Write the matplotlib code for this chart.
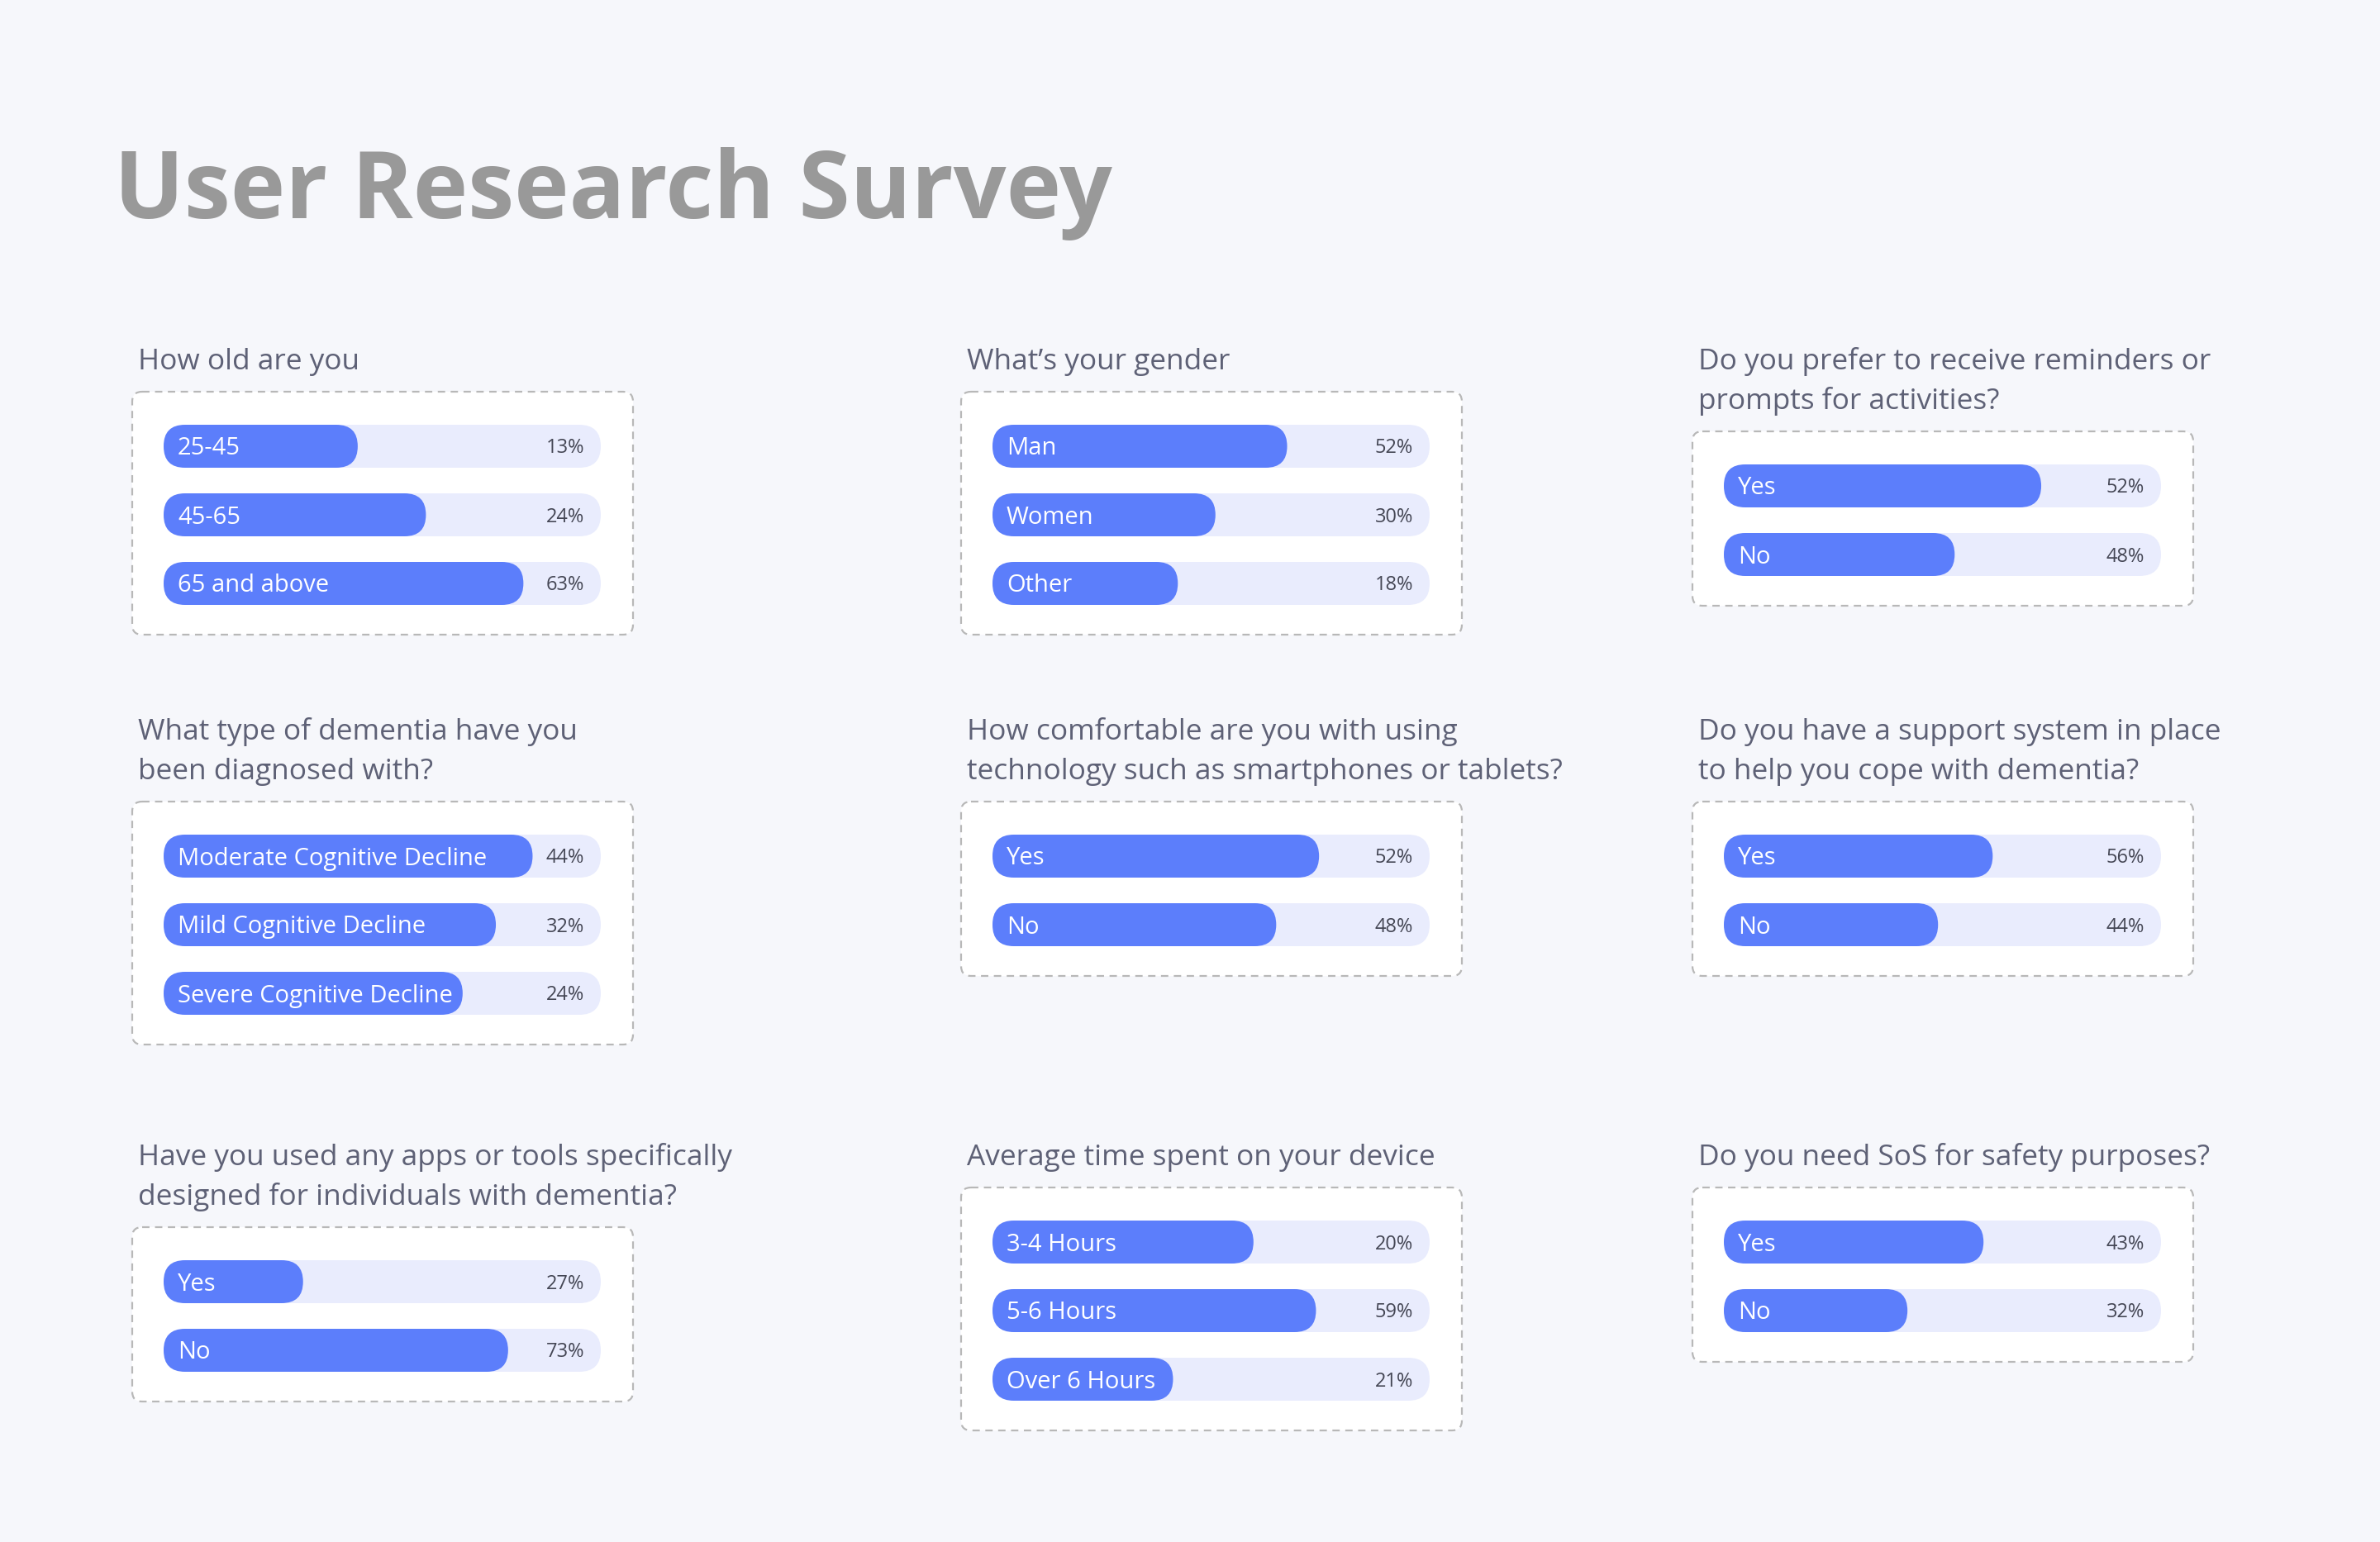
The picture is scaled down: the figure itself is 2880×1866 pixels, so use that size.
import matplotlib
matplotlib.use("Agg")
import matplotlib.pyplot as plt
from matplotlib.patches import FancyBboxPatch

plt.rcParams['font.family'] = ['Open Sans', 'DejaVu Sans']

# survey data (percent labels and bar fill as drawn in the mockup)
age_labels = ["25-45", "45-65", "65 and above"]
age_pct = [13, 24, 63]
age_fill = [0.444, 0.600, 0.823]

gender_labels = ["Man", "Women", "Other"]
gender_pct = [52, 30, 18]
gender_fill = [0.674, 0.510, 0.424]

remind_labels = ["Yes", "No"]
remind_pct = [52, 48]
remind_fill = [0.726, 0.528]

dementia_labels = ["Moderate Cognitive Decline", "Mild Cognitive Decline", "Severe Cognitive Decline"]
dementia_pct = [44, 32, 24]
dementia_fill = [0.844, 0.760, 0.684]

tech_labels = ["Yes", "No"]
tech_pct = [52, 48]
tech_fill = [0.747, 0.649]

support_labels = ["Yes", "No"]
support_pct = [56, 44]
support_fill = [0.615, 0.490]

apps_labels = ["Yes", "No"]
apps_pct = [27, 73]
apps_fill = [0.319, 0.788]

time_labels = ["3-4 Hours", "5-6 Hours", "Over 6 Hours"]
time_pct = [20, 59, 21]
time_fill = [0.597, 0.740, 0.413]

sos_labels = ["Yes", "No"]
sos_pct = [43, 32]
sos_fill = [0.594, 0.420]

questions = [
    "How old are you",
    "What\u2019s your gender",
    "Do you prefer to receive reminders or\nprompts for activities?",
    "What type of dementia have you\nbeen diagnosed with?",
    "How comfortable are you with using\ntechnology such as smartphones or tablets?",
    "Do you have a support system in place\nto help you cope with dementia?",
    "Have you used any apps or tools specifically\ndesigned for individuals with dementia?",
    "Average time spent on your device",
    "Do you need SoS for safety purposes?",
]

panels = [
    (age_labels, age_pct, age_fill),
    (gender_labels, gender_pct, gender_fill),
    (remind_labels, remind_pct, remind_fill),
    (dementia_labels, dementia_pct, dementia_fill),
    (tech_labels, tech_pct, tech_fill),
    (support_labels, support_pct, support_fill),
    (apps_labels, apps_pct, apps_fill),
    (time_labels, time_pct, time_fill),
    (sos_labels, sos_pct, sos_fill),
]

BG = "#F6F7FB"
FILL = "#5C7EFB"
TRACK = "#E9ECFD"
QCOL = "#5E6176"
PCOL = "#444654"

W, H = 2880, 1866
fig = plt.figure(figsize=(W / 100, H / 100), dpi=100, facecolor=BG)
ax = fig.add_axes([0, 0, 1, 1])
ax.set_xlim(0, W)
ax.set_ylim(H, 0)
ax.axis("off")

ax.text(138, 264, "User Research Survey", fontsize=81, fontweight="bold",
        color="#999999", va="baseline", ha="left")

col_x = [160, 1163, 2048]
row_y = [435, 883, 1398]
box_w = 606
pad_x = 38
track_h = 52
step = 83
line_h = 48

for i, (q, (labels, pct, fill)) in enumerate(zip(questions, panels)):
    x0 = col_x[i % 3]
    ty = row_y[i // 3]
    nlines = q.count("\n") + 1
    for k, line in enumerate(q.split("\n")):
        ax.text(x0 + 7, ty + 12 + k * line_h, line, fontsize=25.4, color=QCOL,
                va="baseline", ha="left")
    box_top = ty + (nlines - 1) * line_h + 39
    n = len(labels)
    box_h = 66 + (n - 1) * step + 62
    ax.add_patch(FancyBboxPatch((x0, box_top), box_w, box_h,
                                boxstyle="round,pad=0,rounding_size=12",
                                facecolor="white", edgecolor="#B8B8B8",
                                linewidth=1.6, linestyle=(0, (4, 3))))
    tx = x0 + pad_x
    tw = box_w - 2 * pad_x - 1
    for j in range(n):
        cy = box_top + 66 + j * step
        ax.add_patch(FancyBboxPatch((tx, cy - track_h / 2), tw, track_h,
                                    boxstyle="round,pad=0,rounding_size=26",
                                    facecolor=TRACK, edgecolor="none"))
        ax.add_patch(FancyBboxPatch((tx, cy - track_h / 2), tw * fill[j], track_h,
                                    boxstyle="round,pad=0,rounding_size=26",
                                    facecolor=FILL, edgecolor="none"))
        ax.text(tx + 17, cy + 10.5, labels[j], fontsize=21, color="white",
                va="baseline", ha="left")
        ax.text(tx + tw - 20, cy + 8.5, f"{pct[j]}%", fontsize=17, color=PCOL,
                va="baseline", ha="right")

fig.savefig("out.png", dpi=100, facecolor=BG)
